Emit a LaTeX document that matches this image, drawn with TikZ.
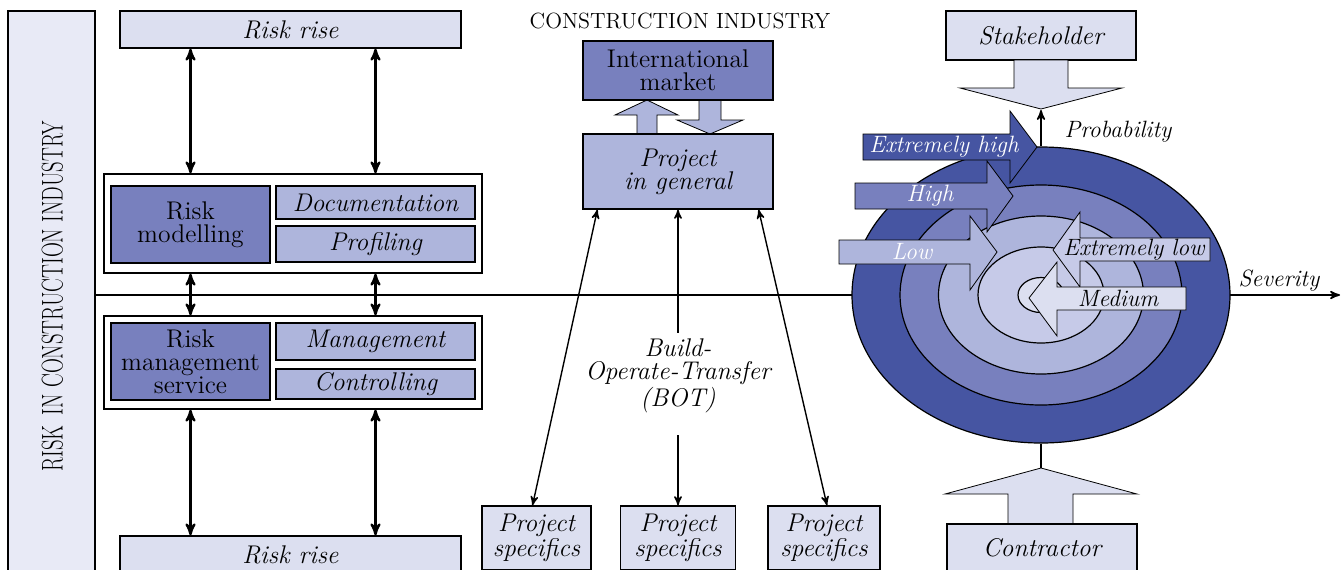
\documentclass[tikz,border=0pt]{standalone}
\usepackage{tikz}
\usetikzlibrary{arrows,shapes.geometric,calc}

\definecolor{paleblue}{HTML}{DCDFF0}
\definecolor{sideblue}{HTML}{E8EAF6}
\definecolor{midblue}{HTML}{AEB5DC}
\definecolor{lightblue}{HTML}{C6CAE8}
\definecolor{darkblue}{HTML}{7880BE}
\definecolor{deepblue}{HTML}{4655A2}

\newcommand{\lbl}{\fontsize{12.8}{11.5}\selectfont}
\newcommand{\sml}{\fontsize{11.8}{11.5}\selectfont}

\begin{document}
\begin{tikzpicture}[x=0.5pt, y=-0.5pt, >=stealth', semithick]
\tikzstyle{box}=[draw=black, semithick, inner sep=0pt, align=center, font=\lbl]
\tikzstyle{pale}=[box, fill=paleblue, font=\lbl\itshape]
\tikzstyle{mid}=[box, fill=midblue, font=\lbl\itshape]
\tikzstyle{dark}=[box, fill=darkblue, line width=1.3pt]
\tikzstyle{frame}=[draw=black, semithick, fill=white, inner sep=0pt]
\tikzstyle{ring}=[ellipse, draw=black, semithick, inner sep=0pt]
\tikzstyle{dbl}=[<->, line width=1.1pt]
\tikzstyle{link}=[line width=0.7pt]
\tikzstyle{blockarrow}=[draw=black, thin, fill=paleblue]
\tikzstyle{tag}=[font=\sml\itshape, inner sep=0pt, align=center]

\clip (0,0) rectangle (1343,569);

\node[box, fill=sideblue, minimum width=43.5pt, minimum height=295pt] (side) at (51.5,306) {};
\node[rotate=90, font=\fontsize{15}{15}\selectfont] (sidetext) at (52.5,296.5) {\scalebox{0.69}[1]{RISK\enspace IN CONSTRUCTION INDUSTRY}};

\coordinate (sevtip) at (1340,295);
\draw[->, thick] (side.east |- sevtip) -- (sevtip);

\node[pale, minimum width=170.5pt, minimum height=18.5pt] (risetop) at (290.5,29.5) {Risk rise};
\node[frame, minimum width=189pt, minimum height=49.5pt] (modframe) at (293,223.5) {};
\node[dark, minimum width=79.5pt, minimum height=38.5pt] (model) at (190.5,224.5) {Risk\\modelling};
\node[mid, minimum width=99.5pt, minimum height=16.5pt] (docu) at (375.5,202.5) {Documentation};
\node[mid, minimum width=99.5pt, minimum height=18pt] (prof) at (375.5,244) {Profiling};
\node[frame, minimum width=189pt, minimum height=46.5pt] (mgtframe) at (293,362.5) {};
\node[dark, minimum width=79.5pt, minimum height=38.5pt] (service) at (190.5,361.5) {Risk\\management\\service};
\node[mid, minimum width=99.5pt, minimum height=18.5pt] (mgt) at (375.5,341.5) {Management};
\node[mid, minimum width=99.5pt, minimum height=15pt] (ctrl) at (375.5,384) {Controlling};
\node[pale, minimum width=170.5pt, minimum height=18.5pt] (risebot) at (290.5,554.5) {Risk rise};

\draw[dbl] (risetop.south -| model) -- (modframe.north -| model);
\draw[dbl] (risetop.south -| docu) -- (modframe.north -| docu);
\draw[dbl] (modframe.south -| model) -- (mgtframe.north -| model);
\draw[dbl] (modframe.south -| docu) -- (mgtframe.north -| docu);
\draw[dbl] (mgtframe.south -| model) -- (risebot.north -| model);
\draw[dbl] (mgtframe.south -| docu) -- (risebot.north -| docu);

\node[font=\fontsize{11}{11}\selectfont] (title) at (680,21) {CONSTRUCTION INDUSTRY};
\draw[blockarrow, fill=midblue] (637,134) -- (637,115) -- (615,115) -- (647,100) -- (678,115) -- (657,115) -- (657,134) -- cycle;
\draw[blockarrow, fill=midblue] (699,100) -- (699,120) -- (677,120) -- (710,134) -- (743,120) -- (721,120) -- (721,100) -- cycle;
\node[dark, minimum width=95pt, minimum height=29.5pt] (intl) at (678,70.5) {International\\market};
\node[mid, minimum width=95pt, minimum height=37.5pt] (general) at (678,171.5) {Project\\in general};

\node[pale, minimum width=54.5pt, minimum height=32pt] (spec1) at (536.5,538) {Project\\specifics};
\node[pale, minimum width=57.5pt, minimum height=32pt] (spec2) at (678,538) {Project\\specifics};
\node[pale, minimum width=56pt, minimum height=32pt] (spec3) at (824,538) {Project\\specifics};
\node[tag, font=\lbl\itshape] (bot) at (678,376) {Build-\\Operate-Transfer\\(BOT)};

\draw[link, <->] ($(general.south west)+(15,0)$) -- ($(spec1.north)+(-4,0)$);
\draw[link, ->] ([yshift=3pt]bot.north) -- (general.south);
\draw[link, ->] ([yshift=-11pt]bot.south) -- (spec2.north);
\draw[link, <->] ($(general.south east)+(-15,0)$) -- ($(spec3.north)+(3,0)$);

\node[pale, minimum width=95pt, minimum height=24.5pt] (stake) at (1041,35.5) {Stakeholder};
\draw[blockarrow] (1014,60) -- (1014,88) -- (960,88) -- (1041,109) -- (1122,88) -- (1068,88) -- (1068,60) -- cycle;
\coordinate (probtip) at (1041,110);
\coordinate (contip) at (1041,468);
\draw[blockarrow] (1008,524) -- (1008,494) -- (945,494) -- (1041,468) -- (1137,494) -- (1073,494) -- (1073,524) -- cycle;
\node[pale, minimum width=95pt, minimum height=24pt] (contractor) at (1042,548) {Contractor};

\node[ring, fill=deepblue, minimum width=189pt, minimum height=148pt] (rim) at (1041,295) {};
\node[ring, fill=darkblue, minimum width=141pt, minimum height=110pt] (ring2) at (1041,295) {};
\node[ring, fill=midblue, minimum width=102.5pt, minimum height=79pt] (ring3) at (1041,295) {};
\node[ring, fill=lightblue, minimum width=63pt, minimum height=48pt] (ring4) at (1041,295) {};
\node[ring, fill=paleblue, minimum width=23pt, minimum height=17.5pt] (core) at (1041,295) {};
\draw[->, thick] (rim.north) -- (probtip);
\draw[thick] (rim.south) -- (contip);

\node[tag] (prob) at (1118,132) {Probability};
\node[tag] (sev) at (1279,281) {Severity};

\draw[blockarrow, fill=deepblue] (863,134) -- (1010,134) -- (1010,111) -- (1037,147) -- (1010,183) -- (1010,160) -- (863,160) -- cycle;
\node[tag, text=white] (exhigh) at (944,147) {Extremely high};
\draw[blockarrow, fill=darkblue] (855,183) -- (987,183) -- (987,161) -- (1013,196) -- (987,232) -- (987,209) -- (855,209) -- cycle;
\node[tag, text=white] (high) at (930,196) {High};
\draw[blockarrow, fill=midblue] (839,240) -- (970,240) -- (970,216) -- (997,252) -- (970,290) -- (970,264) -- (839,264) -- cycle;
\node[tag, text=white] (low) at (912,252) {Low};
\draw[blockarrow, fill=lightblue] (1210,238) -- (1080,238) -- (1080,212) -- (1053,250) -- (1080,287) -- (1080,261) -- (1210,261) -- cycle;
\node[tag] (exlow) at (1134,250) {Extremely low};
\draw[blockarrow, fill=paleblue] (1186,287) -- (1057,287) -- (1057,262) -- (1029,298) -- (1057,336) -- (1057,310) -- (1186,310) -- cycle;
\node[tag] (medium) at (1118,298) {Medium};
\end{tikzpicture}
\end{document}
